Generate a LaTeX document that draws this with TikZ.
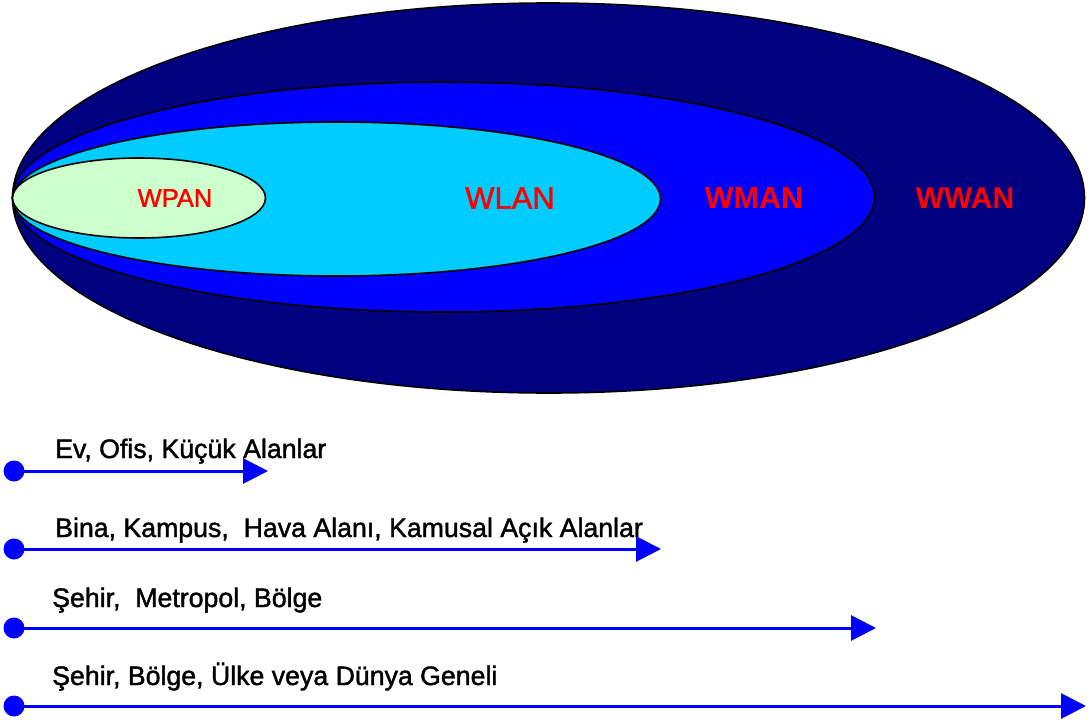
\documentclass[tikz,border=0pt]{standalone}
\usepackage{fontspec}
\setmainfont{Liberation Sans}
\newfontfamily\heavyfont[BoldFont={Liberation Sans},BoldFeatures={FakeBold=1.5}]{Liberation Sans}
\usetikzlibrary{arrows.meta}
\definecolor{wwancol}{RGB}{0,0,128}
\definecolor{wmancol}{RGB}{0,0,255}
\definecolor{wlancol}{RGB}{0,204,255}
\definecolor{wpancol}{RGB}{204,255,204}
\definecolor{rangeblue}{RGB}{0,0,255}
\begin{document}
\begin{tikzpicture}[x=1pt,y=-1pt,
  zone/.style={draw=black,line width=1.6pt},
  netlbl/.style={text=red,inner sep=0pt},
  rangearrow/.style={draw=rangeblue,line width=3pt,-{Triangle[length=25pt,width=25pt]}},
  rangedot/.style={circle,fill=rangeblue,inner sep=0pt,minimum size=21pt},
  rangetext/.style={anchor=base west,inner sep=0pt,font=\heavyfont\bfseries\fontsize{26.7}{30}\selectfont}]
\useasboundingbox (0,0) rectangle (1088,726);
% nested zones
\path[zone,fill=wwancol] (548.5,198) ellipse [x radius=536pt,y radius=195pt];
\path[zone,fill=wmancol] (443.5,197) ellipse [x radius=431pt,y radius=115pt];
\path[zone,fill=wlancol] (336.5,199) ellipse [x radius=324pt,y radius=77pt];
\path[zone,fill=wpancol] (139,198) ellipse [x radius=126.5pt,y radius=40pt];
% zone labels
\node[netlbl,font=\heavyfont\bfseries\fontsize{25.5}{30}\selectfont] (wpan) at (175,198) {WPAN};
\node[netlbl,font=\heavyfont\bfseries\fontsize{31}{36}\selectfont] (wlan) at (510,198) {WLAN};
\node[netlbl,font=\fontsize{30.5}{36}\selectfont\bfseries] (wman) at (754,198) {WMAN};
\node[netlbl,font=\fontsize{30}{36}\selectfont\bfseries] (wwan) at (965,198) {WWAN};
% ranges
\node[rangedot] (d1) at (14,471) {};
\coordinate (e1) at (268,471);
\draw[rangearrow] (d1.center) -- (e1);
\node[rangetext] (t1) at (55,458) {Ev, Ofis, Küçük Alanlar};

\node[rangedot] (d2) at (14,549) {};
\coordinate (e2) at (661,549);
\draw[rangearrow] (d2.center) -- (e2);
\node[rangetext] (t2) at (55,537) {Bina, Kampus,\ \ Hava Alanı, Kamusal Açık Alanlar};

\node[rangedot] (d3) at (14,628) {};
\coordinate (e3) at (876,628);
\draw[rangearrow] (d3.center) -- (e3);
\node[rangetext] (t3) at (52,607) {Şehir,\ \ Metropol, Bölge};

\node[rangedot] (d4) at (14,706) {};
\coordinate (e4) at (1086,706);
\draw[rangearrow] (d4.center) -- (e4);
\node[rangetext] (t4) at (52,685) {Şehir, Bölge, Ülke veya Dünya Geneli};
\end{tikzpicture}
\end{document}
